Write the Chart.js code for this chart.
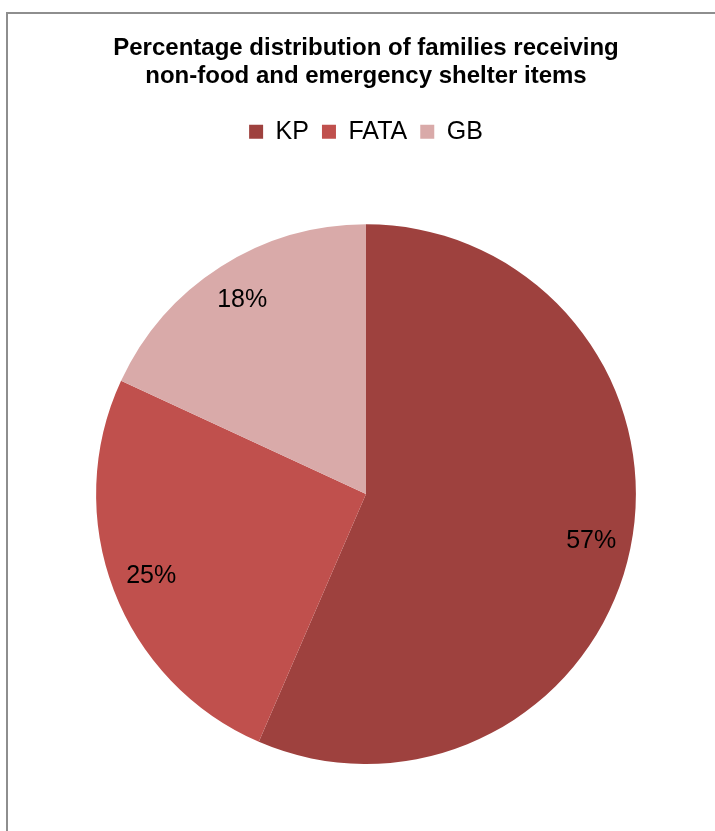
<!DOCTYPE html>
<html>
<head>
<meta charset="utf-8">
<script src="https://cdn.jsdelivr.net/npm/chart.js@4"></script>
<style>
  html, body { margin: 0; padding: 0; background: #fff; overflow: hidden; }
  #wrap { position: relative; width: 715px; height: 831px; }
  #frame { position: absolute; left: 6px; top: 12px; width: 800px; height: 900px; border: 2px solid #8e8e8e; box-sizing: border-box; }
  canvas { position: absolute; left: 0; top: 0; }
</style>
</head>
<body>
<div id="wrap">
  <div id="frame"></div>
  <canvas id="c" width="715" height="831"></canvas>
</div>
<script>
const titleLines = ['Percentage distribution of families receiving', 'non-food and emergency shelter items'];
const categories = ['KP', 'FATA', 'GB'];
const values = [56.5, 25.4, 18.1];
const colors = ['#9e413e', '#c0504d', '#d9aaa9'];

const legendSpacer = {
  id: 'legendSpacer',
  beforeInit(chart) {
    const fit = chart.legend.fit;
    chart.legend.fit = function () { fit.call(chart.legend); this.height += 70; };
  }
};

const pieLabels = {
  id: 'pieLabels',
  afterDatasetsDraw(chart) {
    const ctx = chart.ctx;
    const meta = chart.getDatasetMeta(0);
    ctx.save();
    ctx.font = '25px "Liberation Sans", Arial, sans-serif';
    ctx.fillStyle = '#000';
    ctx.textAlign = 'center';
    ctx.textBaseline = 'middle';
    meta.data.forEach((arc, i) => {
      const p = arc.getProps(['x', 'y', 'startAngle', 'endAngle', 'outerRadius'], true);
      const mid = (p.startAngle + p.endAngle) / 2;
      const r = p.outerRadius * 0.852;
      ctx.fillText(Math.round(values[i]) + '%', p.x + Math.cos(mid) * r, p.y + Math.sin(mid) * r);
    });
    ctx.restore();
  }
};

new Chart(document.getElementById('c'), {
  type: 'pie',
  data: {
    labels: categories,
    datasets: [{ data: values, backgroundColor: colors, borderWidth: 0 }]
  },
  options: {
    responsive: false,
    animation: false,
    layout: { padding: { left: 17, right: 0, top: 0, bottom: 67 } },
    plugins: {
      tooltip: { enabled: false },
      title: {
        display: true,
        text: titleLines,
        color: '#000',
        font: { family: '"Liberation Sans", Arial, sans-serif', size: 24, weight: 'bold', lineHeight: 1.15 },
        padding: { top: 35, bottom: 16 }
      },
      legend: {
        display: true,
        position: 'top',
        labels: {
          color: '#000',
          font: { family: '"Liberation Sans", Arial, sans-serif', size: 25 },
          boxWidth: 14,
          boxHeight: 14,
          padding: 13
        }
      }
    }
  },
  plugins: [legendSpacer, pieLabels]
});
</script>
</body>
</html>
